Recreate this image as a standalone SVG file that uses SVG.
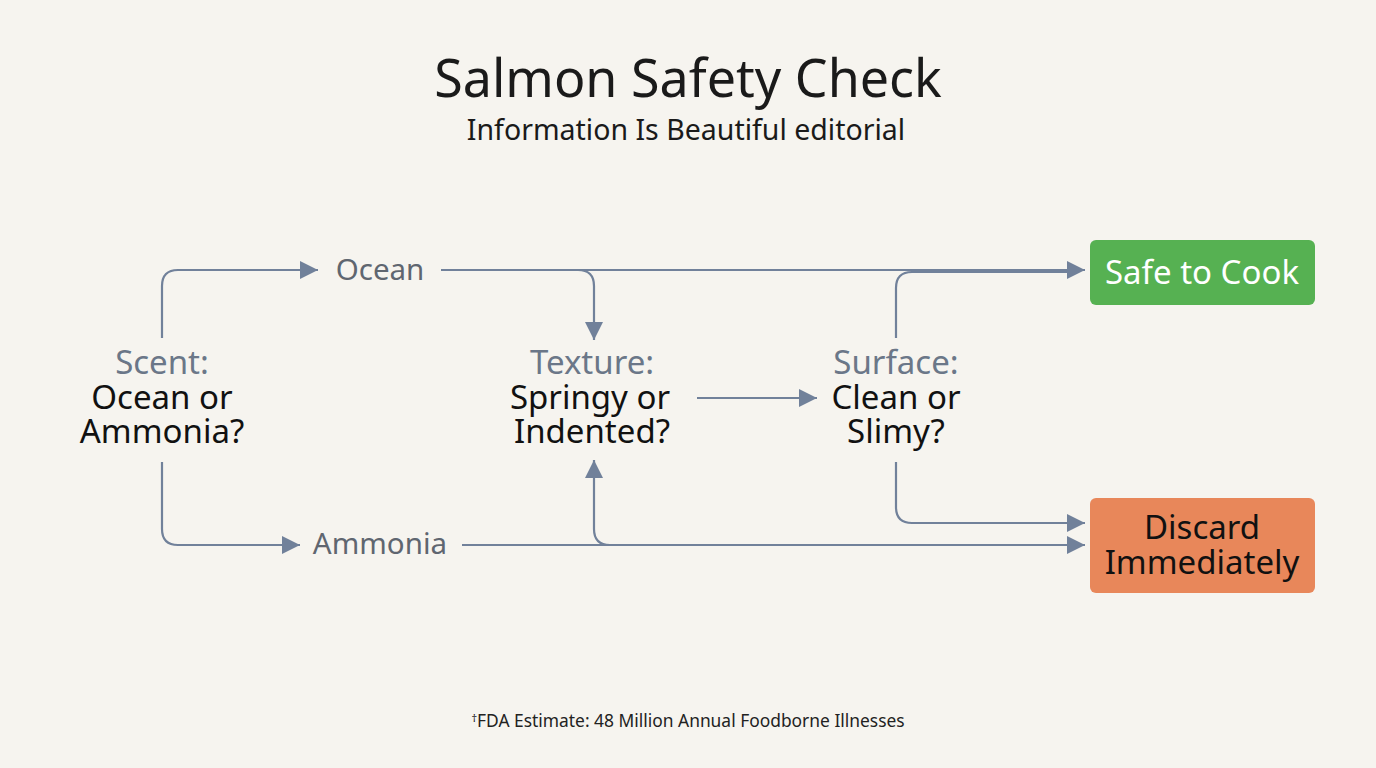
<svg xmlns="http://www.w3.org/2000/svg" width="1376" height="768" viewBox="0 0 1376 768">
<defs>
<style>
text{font-family:"Noto Sans","Liberation Sans",sans-serif;text-anchor:middle}
.title{font-size:52px;fill:#1a1a1a}
.sub{font-size:28.5px;fill:#1a1a1a}
.q{fill:#6b7788}
.a{fill:#111}
.node{font-size:33px}
.lbl{font-size:29.5px;fill:#5f6670}
.c{fill:none;stroke:#71819a;stroke-width:2.2}
.foot{font-size:17.4px;fill:#222}
</style>
<marker id="ah2" viewBox="0 0 10 10" refX="10" refY="5" markerWidth="18" markerHeight="18" markerUnits="userSpaceOnUse" orient="auto"><path d="M0,0 L10,5 L0,10 z" fill="#71819a"/></marker>
</defs>
<rect width="1376" height="768" fill="#f6f4ef"/>
<g id="title"><text class="title" x="688" y="97">Salmon Safety Check</text>
<text class="sub" x="686" y="140">Information Is Beautiful editorial</text></g>
<g id="connectors">
<path class="c" d="M162,338 V286 Q162,270 178,270 H318" marker-end="url(#ah2)"/>
<path class="c" d="M162,462 V529 Q162,545 178,545 H300" marker-end="url(#ah2)"/>
<path class="c" d="M441,270 H1085" marker-end="url(#ah2)"/>
<path class="c" d="M578,270 Q594,270 594,286 V340" marker-end="url(#ah2)"/>
<path class="c" d="M462,545 H1085" marker-end="url(#ah2)"/>
<path class="c" d="M610,545 Q594,545 594,529 V460" marker-end="url(#ah2)"/>
<path class="c" d="M697,398 H817" marker-end="url(#ah2)"/>
<path class="c" d="M896,338 V288 Q896,272 912,272 H1070"/>
<path class="c" d="M896,462 V507 Q896,523 912,523 H1085" marker-end="url(#ah2)"/>
</g>
<g id="label-ocean"><text class="lbl" x="380" y="280">Ocean</text></g>
<g id="label-ammonia"><text class="lbl" x="380" y="554">Ammonia</text></g>
<g id="scent"><text class="node" x="162" y="374"><tspan class="q" x="162">Scent:</tspan><tspan class="a" x="162" dy="35">Ocean or</tspan><tspan class="a" x="162" dy="34">Ammonia?</tspan></text></g>
<g id="texture"><text class="node" x="592" y="374"><tspan class="q" x="592">Texture:</tspan><tspan class="a" x="590" dy="35">Springy or</tspan><tspan class="a" x="592" dy="34">Indented?</tspan></text></g>
<g id="surface"><text class="node" x="896" y="374"><tspan class="q" x="896">Surface:</tspan><tspan class="a" x="896" dy="35">Clean or</tspan><tspan class="a" x="896" dy="34">Slimy?</tspan></text></g>
<g id="safe"><rect x="1090" y="240" width="225" height="65" rx="6" fill="#56b152"/><text class="node" x="1202" y="284" style="fill:#fff">Safe to Cook</text></g>
<g id="discard"><rect x="1090" y="498" width="225" height="95" rx="6" fill="#e8875a"/><text class="node a" x="1202" y="539"><tspan x="1202">Discard</tspan><tspan x="1202" dy="35">Immediately</tspan></text></g>
<g id="footer"><text class="foot" x="688" y="727"><tspan font-size="11" dy="-5">†</tspan><tspan dy="5">FDA Estimate: 48 Million Annual Foodborne Illnesses</tspan></text></g>
</svg>
